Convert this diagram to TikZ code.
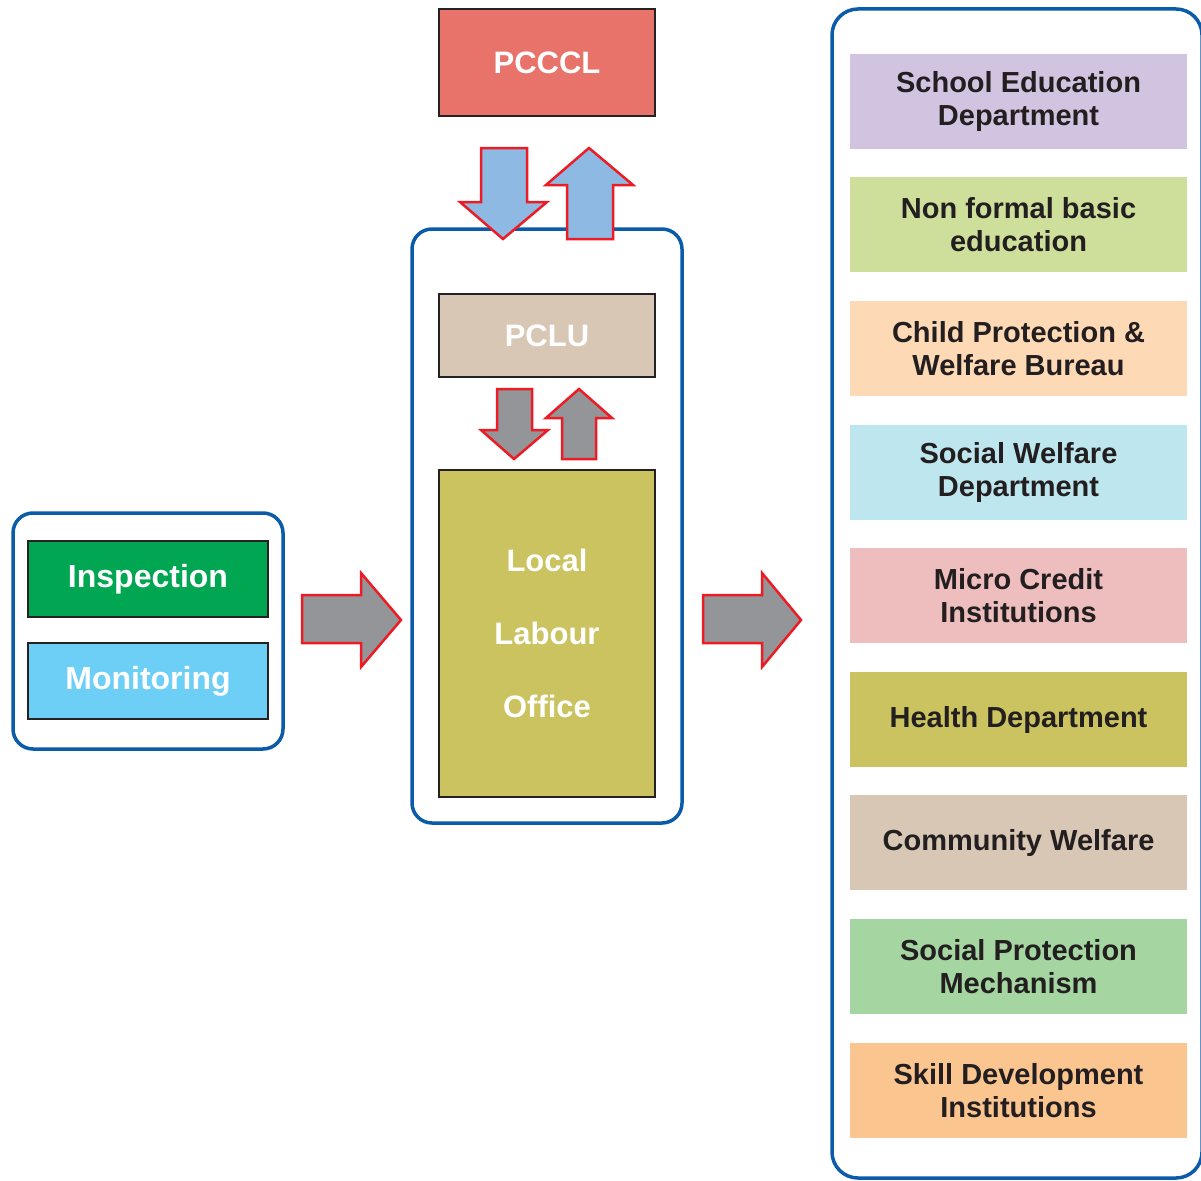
\documentclass[tikz,border=0pt]{standalone}
\usepackage{fontspec}
\setmainfont{Liberation Sans}
\definecolor{frameblue}{HTML}{0A5BAA}
\definecolor{darkline}{HTML}{262223}
\definecolor{arrred}{HTML}{ED1C24}
\definecolor{arrgray}{HTML}{949598}
\definecolor{arrblue}{HTML}{8EB9E2}
\definecolor{cpcccl}{HTML}{E8736A}
\definecolor{cpclu}{HTML}{D9C7B5}
\definecolor{colive}{HTML}{CAC35F}
\definecolor{cinsp}{HTML}{00A651}
\definecolor{cmon}{HTML}{6DCFF6}
\definecolor{cpurple}{HTML}{D1C4E0}
\definecolor{clgreen}{HTML}{CDDF9B}
\definecolor{cpeach}{HTML}{FDD9B5}
\definecolor{clblue}{HTML}{BEE6EE}
\definecolor{cpink}{HTML}{EEBDBE}
\definecolor{cbeige}{HTML}{D9C7B5}
\definecolor{cmgreen}{HTML}{A5D5A0}
\definecolor{corange}{HTML}{FBC590}
\definecolor{ctext}{HTML}{231F20}
\tikzset{
  frame/.style={draw=frameblue, line width=3.5pt, rounded corners=20pt},
  darkbox/.style={draw=darkline, line width=2.5pt, inner sep=0pt, align=center, text=white,
     font=\fontsize{31}{37}\selectfont\bfseries},
  rightbox/.style={inner sep=0pt, minimum width=337pt, minimum height=95pt, align=center,
     text=ctext, font=\fontsize{29}{33}\selectfont\bfseries},
  blockarrow/.style={draw=arrred, line width=2.5pt, line join=miter},
}
\begin{document}
\begin{tikzpicture}[x=1pt,y=-1pt]
\useasboundingbox (0,0) rectangle (1201,1180);
% frames
\draw[frame] (412,229) rectangle (682,823);
\draw[frame] (13,513) rectangle (283,749);
\draw[frame, rounded corners=26pt] (832,9) rectangle (1202,1178);
% top
\node[darkbox, fill=cpcccl, minimum width=216pt, minimum height=107pt] (pcccl) at (547,62.5) {PCCCL};
\node[darkbox, fill=cpclu, minimum width=216pt, minimum height=83pt] (pclu) at (547,335.5) {PCLU};
\node[darkbox, fill=colive, minimum width=216pt, minimum height=327pt,
      font=\fontsize{31}{73}\selectfont\bfseries] (llo) at (547,633.5) {Local\\Labour\\Office};
% left
\node[darkbox, fill=cinsp, minimum width=240pt, minimum height=76pt,
      font=\fontsize{32}{37}\selectfont\bfseries] (insp) at (148,579) {Inspection};
\node[darkbox, fill=cmon, minimum width=240pt, minimum height=76pt,
      font=\fontsize{32}{37}\selectfont\bfseries] (mon) at (148,681) {Monitoring};
% right items
\node[rightbox, fill=cpurple] (r1) at (1018.5,101.5) {School Education\\Department};
\node[rightbox, fill=clgreen] (r2) at (1018.5,224.5) {Non formal basic\\education};
\node[rightbox, fill=cpeach] (r3) at (1018.5,348.5) {Child Protection \&\\Welfare Bureau};
\node[rightbox, fill=clblue] (r4) at (1018.5,472.5) {Social Welfare\\Department};
\node[rightbox, fill=cpink] (r5) at (1018.5,595.5) {Micro Credit\\Institutions};
\node[rightbox, fill=colive] (r6) at (1018.5,719.5) {Health Department};
\node[rightbox, fill=cbeige] (r7) at (1018.5,842.5) {Community Welfare};
\node[rightbox, fill=cmgreen] (r8) at (1018.5,966.5) {Social Protection\\Mechanism};
\node[rightbox, fill=corange] (r9) at (1018.5,1090.5) {Skill Development\\Institutions};
% blue arrows
\draw[blockarrow, fill=arrblue] (481,148) -- (527,148) -- (527,202) -- (547,202) -- (503,239)
   -- (460,202) -- (481,202) -- cycle;
\draw[blockarrow, fill=arrblue] (567,239) -- (567,185) -- (546,185) -- (589,148) -- (633,185)
   -- (613,185) -- (613,239) -- cycle;
% gray arrows
\draw[blockarrow, fill=arrgray] (497,389) -- (532,389) -- (532,430) -- (548,430) -- (514,459)
   -- (481,430) -- (497,430) -- cycle;
\draw[blockarrow, fill=arrgray] (562,459) -- (562,418) -- (546,418) -- (579,389) -- (612,418)
   -- (596,418) -- (596,459) -- cycle;
% right arrows
\draw[blockarrow, fill=arrgray] (302,595) -- (361,595) -- (361,573) -- (401,620) -- (361,667)
   -- (361,643) -- (302,643) -- cycle;
\draw[blockarrow, fill=arrgray] (703,595) -- (762,595) -- (762,573) -- (801,620) -- (762,667)
   -- (762,643) -- (703,643) -- cycle;
\end{tikzpicture}
\end{document}
